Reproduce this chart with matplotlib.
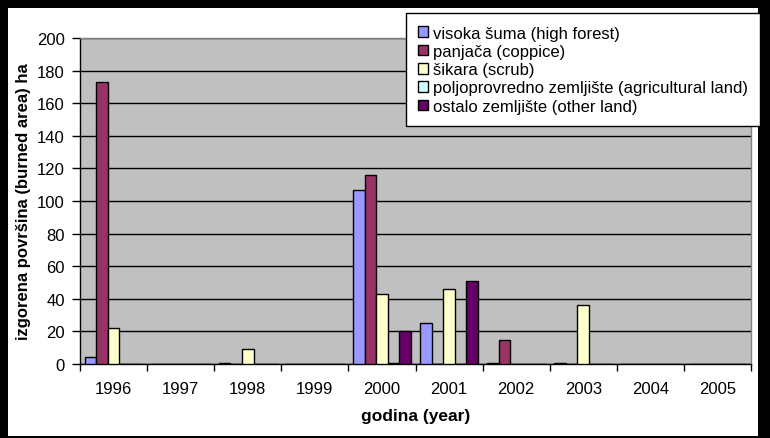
import numpy as np
import matplotlib.pyplot as plt
from matplotlib.patches import Rectangle

plt.rcParams['font.family'] = ['Liberation Sans', 'DejaVu Sans']

years = ['1996', '1997', '1998', '1999', '2000', '2001', '2002', '2003', '2004', '2005']
high_forest = [4, 0, 0.8, 0, 107, 25, 0.7, 0.8, 0, 0]
coppice = [173, 0, 0, 0, 116, 0, 15, 0, 0, 0]
scrub = [22, 0, 9, 0, 43, 46, 0, 36, 0, 0]
agricultural = [0, 0, 0, 0, 0.7, 0, 0, 0, 0, 0]
other_land = [0, 0, 0, 0, 20, 51, 0, 0, 0, 0]

series = [
    (high_forest, '#9999FF', 'visoka šuma (high forest)'),
    (coppice, '#993366', 'panjača (coppice)'),
    (scrub, '#FFFFCC', 'šikara (scrub)'),
    (agricultural, '#CCFFFF', 'poljoprovredno zemljište (agricultural land)'),
    (other_land, '#660066', 'ostalo zemljište (other land)'),
]

fig = plt.figure(figsize=(7.7, 4.39), dpi=100)
fig.patch.set_facecolor('black')
# white sheet inside the dark frame
fig.add_artist(Rectangle((8 / 770, 2 / 439), 750 / 770, 428 / 439,
                         transform=fig.transFigure, facecolor='white',
                         edgecolor='none', zorder=0))

ax = fig.add_axes([80 / 770, 1 - 365 / 439, 671 / 770, 326 / 439])
ax.set_facecolor('#C0C0C0')

x = np.arange(len(years))
w = 0.172
for i, (vals, col, lab) in enumerate(series):
    ax.bar(x + (i - 2) * w, vals, width=w, color=col, edgecolor='black',
           linewidth=1, label=lab, zorder=3)

ax.set_xlim(-0.5, 9.5)
ax.set_ylim(0, 200)
ax.set_yticks(range(0, 201, 20))
ax.yaxis.grid(True, color='black', linewidth=1, zorder=1)
ax.set_axisbelow(True)

ax.set_xticks(np.arange(-0.5, 10, 1))
ax.set_xticklabels([])
ax.set_xticks(x, minor=True)
ax.set_xticklabels(years, minor=True)
ax.tick_params(axis='x', which='major', length=5, width=1, direction='out')
ax.tick_params(axis='x', which='minor', length=0, pad=12, labelsize=12)
ax.tick_params(axis='y', length=6, width=1, pad=5, labelsize=12)

for s in ['left', 'bottom']:
    ax.spines[s].set_color('black')
    ax.spines[s].set_linewidth(1)
for s in ['top', 'right']:
    ax.spines[s].set_color('#808080')
    ax.spines[s].set_linewidth(1)

ax.set_xlabel('godina (year)', fontsize=12.5, fontweight='bold', labelpad=9)
ax.set_ylabel('izgorena površina (burned area) ha', fontsize=12,
              fontweight='bold', labelpad=4)

leg = fig.legend(loc='upper left', bbox_to_anchor=(406 / 770, 1 - 14 / 439),
                 fontsize=12, frameon=True, fancybox=False, borderpad=0.75,
                 handlelength=0.6, handleheight=0.6, handletextpad=0.25,
                 labelspacing=0.2, borderaxespad=0)
leg.get_frame().set_edgecolor('black')
leg.get_frame().set_linewidth(1)
leg.get_frame().set_alpha(1)

fig.savefig('out.png', dpi=100, facecolor='black')
